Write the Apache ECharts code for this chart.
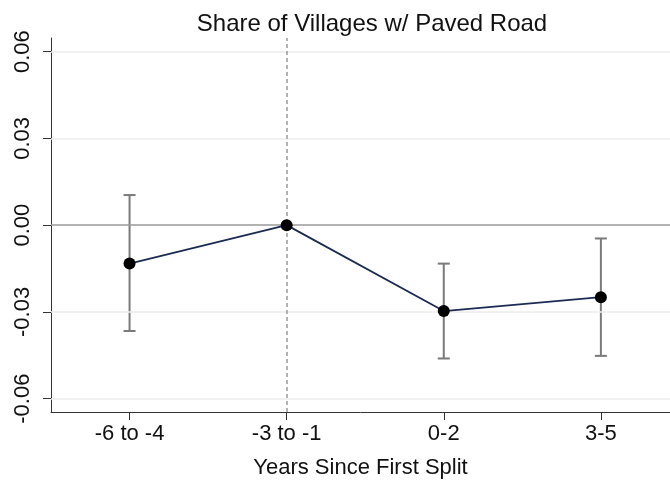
<!DOCTYPE html>
<html><head><meta charset="utf-8">
<script src="https://cdn.jsdelivr.net/npm/echarts@6/dist/echarts.min.js"></script>
<style>html,body{margin:0;padding:0;background:#fff}#c{width:670px;height:487px}</style>
</head><body><div id="c"></div>
<script>
const categories = ['-6 to -4', '-3 to -1', '0-2', '3-5'];
const estimates = [-0.0133, 0, -0.0297, -0.0249];
const ciLow = [-0.0366, 0, -0.0461, -0.0452];
const ciHigh = [0.0104, 0, -0.0133, -0.0046];
const yTicks = [-0.06, -0.03, 0.00, 0.03, 0.06];

const xs = categories.map((c, i) => i + 1);
const lineData = xs.map((x, i) => [x, estimates[i]]);
const barData = xs.map((x, i) => [x, ciLow[i], ciHigh[i]]).filter(d => d[1] !== d[2]);
const font = 'Liberation Sans, Arial, sans-serif';

const chart = echarts.init(document.getElementById('c'), null, {renderer: 'canvas'});
chart.setOption({
  animation: false,
  backgroundColor: '#fff',
  title: {
    text: 'Share of Villages w/ Paved Road', left: 367, textAlign: 'center', top: 7,
    textStyle: {fontFamily: font, fontSize: 24, fontWeight: 'normal', color: '#111'}
  },
  grid: {left: 51, right: 0, top: 38, bottom: 75},
  xAxis: {
    type: 'value', min: 0.5, max: 4.44,
    name: 'Years Since First Split', nameLocation: 'middle', nameGap: 45,
    nameTextStyle: {fontFamily: font, fontSize: 22, color: '#111'},
    axisLine: {show: true, onZero: false, lineStyle: {color: '#333', width: 1}},
    axisTick: {show: true, length: 8, customValues: xs, lineStyle: {color: '#333'}},
    axisLabel: {customValues: xs, margin: 11, fontFamily: font, fontSize: 22, color: '#111',
      formatter: v => categories[Math.round(v) - 1] || ''},
    splitLine: {show: false}
  },
  yAxis: {
    type: 'value', min: -0.0646, max: 0.0647,
    axisLine: {show: true, lineStyle: {color: '#333', width: 1}},
    axisTick: {show: true, length: 8, customValues: yTicks, lineStyle: {color: '#333'}},
    axisLabel: {customValues: yTicks, rotate: 90, margin: 17, fontFamily: font, fontSize: 22, color: '#111',
      formatter: v => v.toFixed(2)},
    splitLine: {show: false}
  },
  series: [
    {
      type: 'line', data: [], silent: true,
      markLine: {
        symbol: 'none', silent: true, label: {show: false},
        data: yTicks.filter(v => v !== 0).map(v => ({yAxis: v, lineStyle: {color: '#ececec', width: 1.5, type: 'solid'}}))
          .concat([{yAxis: 0, lineStyle: {color: '#9a9a9a', width: 1.5, type: 'solid'}},
                   {xAxis: 2, lineStyle: {color: '#9a9a9a', width: 1.5, type: [4, 3]}}])
      }
    },
    {
      type: 'custom', data: barData, silent: true, z: 3,
      renderItem: (params, api) => {
        const x = api.value(0);
        const lo = api.coord([x, api.value(1)]);
        const hi = api.coord([x, api.value(2)]);
        const w = 6;
        const st = {stroke: '#7a7a7a', lineWidth: 2};
        return {type: 'group', children: [
          {type: 'line', shape: {x1: lo[0], y1: lo[1], x2: hi[0], y2: hi[1]}, style: st},
          {type: 'line', shape: {x1: lo[0] - w, y1: lo[1], x2: lo[0] + w, y2: lo[1]}, style: st},
          {type: 'line', shape: {x1: hi[0] - w, y1: hi[1], x2: hi[0] + w, y2: hi[1]}, style: st}
        ]};
      }
    },
    {
      type: 'line', data: lineData, z: 5, silent: true,
      symbol: 'circle', symbolSize: 12,
      itemStyle: {color: '#000'},
      lineStyle: {color: '#1c2b52', width: 1.8}
    }
  ]
});
</script></body></html>
